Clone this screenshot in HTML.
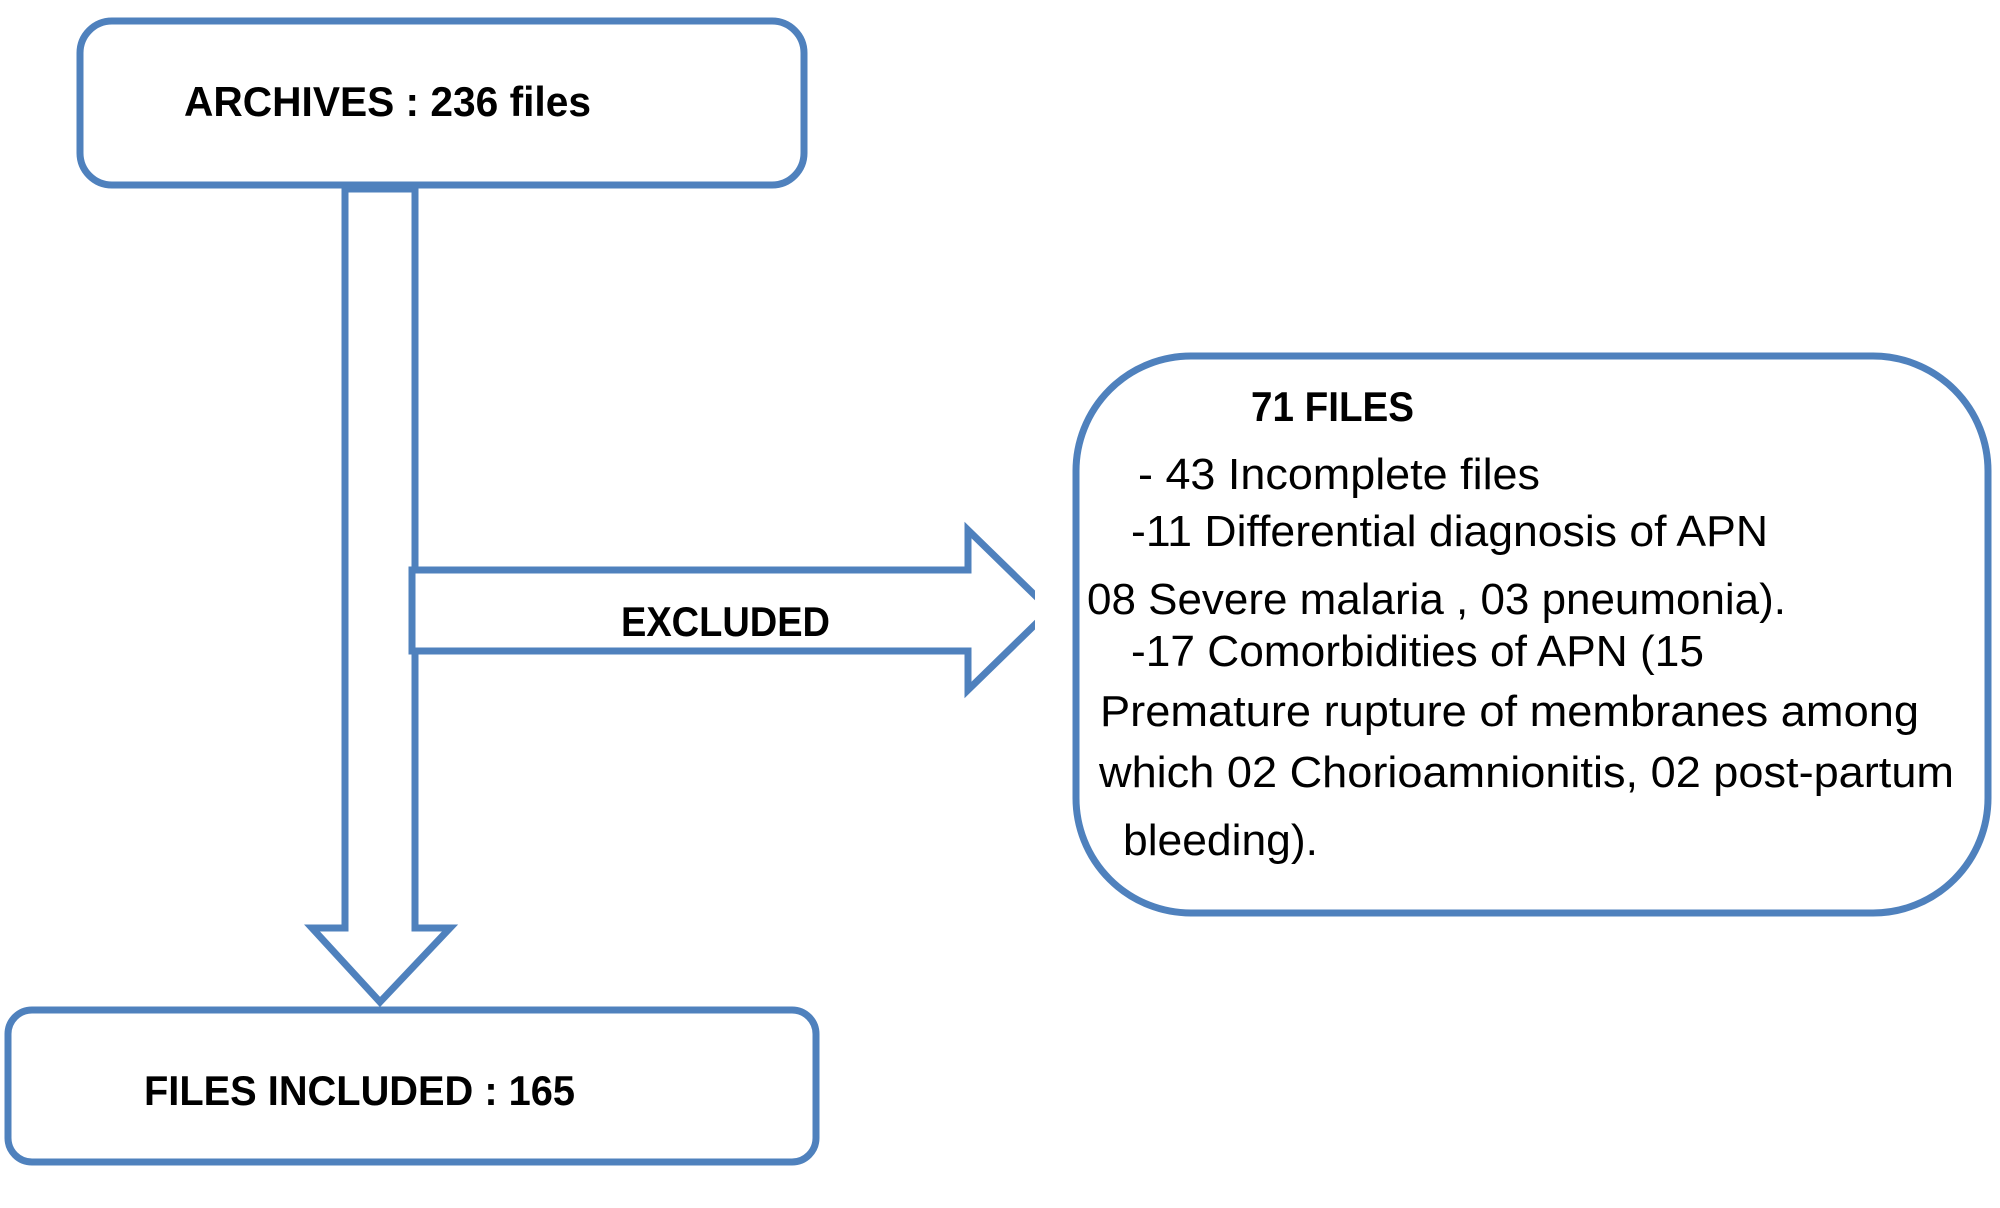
<!DOCTYPE html>
<html><head><meta charset="utf-8"><style>
html,body{margin:0;padding:0;background:#fff;width:2000px;height:1208px;overflow:hidden}
svg{display:block}
text{font-family:"Liberation Sans",sans-serif;fill:#000}
.b{font-weight:bold;font-size:42px}
.n{font-size:44px}
</style></head><body>
<svg width="2000" height="1208" viewBox="0 0 2000 1208" xmlns="http://www.w3.org/2000/svg">
<g fill="none" stroke="#4F81BD" stroke-width="7" stroke-linejoin="miter">
<rect x="80" y="21" width="724" height="164" rx="32"/>
<rect x="8" y="1010" width="808" height="152" rx="24"/>
<rect x="1076" y="356" width="912" height="557" rx="115"/>
<path d="M345,189 V928 H312 L380,1002 L450,928 H415 V189 Z" fill="#fff"/>
<clipPath id="c"><rect x="0" y="0" width="1035" height="1208"/></clipPath>
<path clip-path="url(#c)" d="M412,570 H968 V530 L1050,610 L968,690 V651 H412 Z" fill="#fff"/>
</g>
<text class="b" x="184" y="116" textLength="407" lengthAdjust="spacingAndGlyphs">ARCHIVES  : 236 files</text>
<text class="b" x="144" y="1105" textLength="431" lengthAdjust="spacingAndGlyphs">FILES INCLUDED  : 165</text>
<text class="b" x="621" y="636" textLength="209" lengthAdjust="spacingAndGlyphs">EXCLUDED</text>
<text class="b" x="1251" y="421" textLength="163" lengthAdjust="spacingAndGlyphs">71 FILES</text>
<text class="n" x="1138" y="489" textLength="402" lengthAdjust="spacingAndGlyphs">- 43 Incomplete files</text>
<text class="n" x="1131" y="546" textLength="637" lengthAdjust="spacingAndGlyphs">-11 Differential diagnosis of APN</text>
<text class="n" x="1087" y="614" textLength="699" lengthAdjust="spacingAndGlyphs">08 Severe malaria , 03 pneumonia).</text>
<text class="n" x="1131" y="666" textLength="573" lengthAdjust="spacingAndGlyphs">-17 Comorbidities of APN (15</text>
<text class="n" x="1100" y="726" textLength="819" lengthAdjust="spacingAndGlyphs">Premature rupture of membranes among</text>
<text class="n" x="1099" y="787" textLength="855" lengthAdjust="spacingAndGlyphs">which 02 Chorioamnionitis, 02 post-partum</text>
<text class="n" x="1123" y="855" textLength="195" lengthAdjust="spacingAndGlyphs">bleeding).</text>
</svg>
</body></html>
